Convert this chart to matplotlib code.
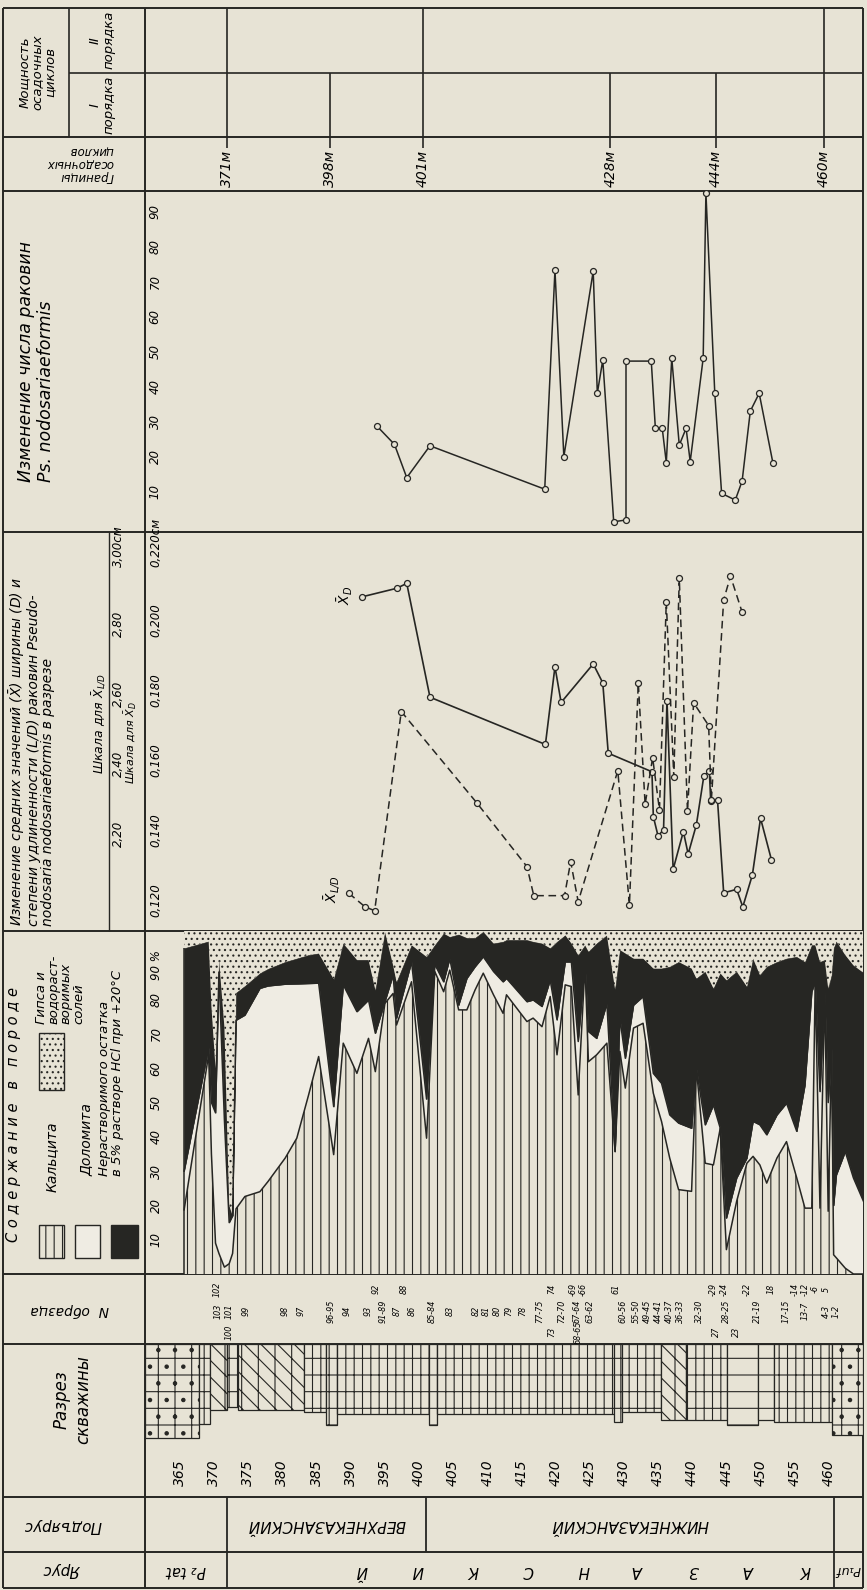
import matplotlib.pyplot as plt
import matplotlib.transforms as mtransforms
from matplotlib.patches import Rectangle
import numpy as np

W, H = 867, 1590
PAPER = '#e7e3d5'
LIGHT = '#efece3'
INK = '#262623'

plt.rcParams['font.family'] = ['DejaVu Sans']
plt.rcParams['font.style'] = 'italic'
plt.rcParams['hatch.linewidth'] = 0.8
plt.rcParams['hatch.color'] = INK

# depth runs left to right: 365 m at x=180 px, 6.83 px per metre
X365, PXM = 180, 6.83
LEFT, RIGHT = 145, 863
DMIN = 365 + (LEFT - X365) / PXM
DMAX = 365 + (RIGHT - X365) / PXM

depth_ticks = list(range(365, 461, 5))

# stratigraphy
substage_edges = [371.9, 401.0, 460.8]
substage_names = ['ВЕРХНЕКАЗАНСКИЙ', 'НИЖНЕКАЗАНСКИЙ']
stage_edges = [371.9, 460.8]
stage_name = 'КАЗАНСКИЙ'

# sedimentary cycles
cycle_depths = [371.9, 387.0, 400.6, 428.0, 443.5, 459.3]
cycle_labels = ['371м', '398м', '401м', '428м', '444м', '460м']
cycle_II = [371.9, 400.6, 459.3]

# number of Ps. nodosariaeformis shells
count_depth = [393.8, 396.4, 398.2, 401.6, 418.4, 419.9, 421.2, 425.5, 426.1, 426.9,
               428.5, 430.3, 430.3, 434.0, 434.6, 435.6, 436.2, 437.0, 438.1, 439.1,
               439.7, 441.6, 442.0, 443.3, 444.3, 446.3, 447.3, 448.5, 449.8, 451.8]
count_vals = [28.9, 23.6, 14.1, 23.2, 10.8, 73.4, 20.1, 73.1, 38.2, 47.7,
              1.5, 2.0, 47.4, 47.4, 28.2, 28.3, 18.4, 48.2, 23.4, 28.2,
              18.7, 48.2, 95.5, 38.2, 9.6, 7.7, 13.1, 33.1, 38.2, 18.4]

# mean width X_D (cm)
xd_depth = [391.7, 396.7, 398.2, 401.6, 418.5, 419.9, 420.8, 425.5, 426.9, 427.7,
            434.1, 434.3, 435.0, 435.8, 436.3, 437.2, 438.7, 439.4, 440.6, 441.7,
            442.5, 442.7, 443.7, 444.6, 446.5, 447.4, 448.8, 450.0, 451.6]
xd_vals = [0.2115, 0.2139, 0.2153, 0.1828, 0.1693, 0.1915, 0.1813, 0.1923, 0.1869, 0.1668,
           0.1615, 0.1487, 0.1431, 0.1450, 0.1818, 0.1336, 0.1444, 0.1380, 0.1463, 0.1603,
           0.1618, 0.1532, 0.1534, 0.1269, 0.1279, 0.1229, 0.1320, 0.1482, 0.1363]

# mean elongation X_L/D
ld_depth = [389.7, 392.1, 393.5, 397.4, 408.5, 415.8, 416.8, 421.3, 422.2, 423.3,
            429.1, 430.8, 432.1, 433.1, 434.2, 435.2, 436.2, 437.3, 438.1, 439.3,
            440.2, 442.4, 442.8, 444.6, 445.6, 447.3]
ld_vals = [2.068, 2.029, 2.018, 2.587, 2.325, 2.144, 2.061, 2.061, 2.158, 2.044,
           2.418, 2.034, 2.669, 2.322, 2.455, 2.306, 2.901, 2.401, 2.968, 2.302,
           2.612, 2.547, 2.334, 2.906, 2.974, 2.871]

# rock composition, cumulative % (calcite, + dolomite, + insoluble residue; rest gypsum)
comp_depth = [365.6, 369.2, 369.6, 370.2, 370.7, 371.5, 372.2, 372.7, 373.2, 374.5,
              376.7, 377.9, 380.4, 382.1, 383.8, 385.3, 387.5, 388.9, 390.9, 392.6,
              393.6, 395.0, 396.2, 396.7, 398.9, 401.1, 402.3, 403.6, 404.5, 405.8,
              407.0, 408.2, 409.4, 410.9, 412.3, 412.8, 415.8, 416.7, 418.0, 419.2,
              420.2, 421.4, 422.3, 423.3, 424.3, 424.8, 426.0, 427.5, 428.7, 429.4,
              430.2, 431.4, 432.8, 434.3, 435.5, 436.7, 438.0, 439.9, 440.6, 441.9,
              443.1, 444.1, 445.0, 446.5, 448.0, 448.9, 449.9, 450.9, 452.4, 453.8,
              455.3, 456.5, 457.5, 458.0, 458.7, 459.4, 459.9, 460.4, 460.7, 461.1,
              462.4, 463.6, 465.5]
calcite_top = [18.7, 64, 35, 9, 6, 2, 3, 6, 19, 22.6,
               24, 27, 33.8, 39.6, 52, 63.4, 34.8, 67.3, 58.5, 68.7,
               59, 78.9, 81.8, 72.6, 85.2, 39.6, 88.2, 82.3, 88.6, 77,
               77, 82.8, 87.7, 81.4, 76, 81.4, 73.6, 74.6, 72.1, 80.9,
               63.9, 84.3, 83.8, 52.2, 90.1, 61.9, 63.9, 67.3, 35.7, 64.9,
               54.2, 71.7, 73.1, 52.7, 44.5, 33.8, 24.6, 24.1, 60, 32.3,
               31.8, 42.5, 7.1, 21.2, 32.3, 34.3, 31.8, 26.5, 33.8, 38.6,
               28, 19.2, 19.2, 85.2, 19.2, 82.3, 18.3, 65.8, 5.6, 4.7,
               1.7, 0, 0]
dolomite_top = [30, 66, 50, 47, 88, 45, 15, 17, 74, 75.5,
                83.3, 84, 84.5, 84.6, 84.7, 84.8, 48.8, 84.3, 76.5, 79.9,
                70.2, 79.4, 87.2, 74.6, 91, 51, 90.3, 85.2, 92, 78.4,
                86.2, 89.6, 92.5, 88.2, 85.2, 86.2, 79.4, 79.9, 78, 85.7,
                74.1, 91, 91, 67.8, 90.6, 70.7, 68.7, 78.9, 35.7, 74.6,
                62.9, 78.4, 80.9, 58.5, 55.6, 46.4, 44, 42.5, 60, 43.5,
                49.3, 42.5, 16.3, 28, 33.8, 44.5, 43.5, 40.6, 46.4, 49.8,
                41.6, 55.1, 82.3, 85.2, 53.2, 82.3, 50, 65.8, 20, 28.9,
                35.7, 28, 19.2]
insoluble_top = [95, 97, 78, 60, 92, 72, 20, 17, 82, 84,
                 87.7, 89, 91, 92, 93, 93.5, 86, 96.4, 91.6, 91.6,
                 82.8, 99.8, 90, 85.2, 95.9, 92.5, 95.9, 99.3, 98.3, 99,
                 98, 98, 99.8, 96.4, 96.9, 97.4, 97.4, 96.9, 96.4, 95,
                 96.9, 98.8, 96.4, 93, 95.9, 94, 96.4, 98.8, 83, 94.5,
                 93.5, 92, 92, 89.1, 89.1, 89.6, 91, 89.1, 86.2, 88.2,
                 83.3, 87.7, 85.7, 88.2, 83.8, 92, 87.2, 89.6, 91, 92,
                 92.5, 91, 95.9, 95.9, 91, 91.6, 83.3, 87.2, 95, 97,
                 93, 90, 87.2]

# well section: bed top, bed bottom, column width, lithology
bed_from = [DMIN, 367.8, 369.4, 371.9, 373.5, 383.2, 386.4, 388.0, 401.4, 402.6,
            428.5, 429.7, 435.4, 439.1, 445.1, 449.6, 452.0, 460.5]
bed_to = [367.8, 369.4, 371.9, 373.5, 383.2, 386.4, 388.0, 401.4, 402.6, 428.5,
          429.7, 435.4, 439.1, 445.1, 449.6, 452.0, 460.5, DMAX]
bed_width = [94, 80, 66, 63, 66, 68, 81, 70, 81, 70,
             78, 68, 76, 76, 81, 76, 78, 91]
bed_rock = ['gyps', 'lime', 'dolo', 'lime', 'dolo', 'lime', 'marl', 'lime', 'marl', 'lime',
            'marl', 'lime', 'dolo', 'marl', 'clay', 'clay', 'marl', 'gyps']

# sample numbers (three staggered rows as printed)
samples_top = ['102', '92', '88', '74', '-69', '-66', '61', '-29', '-24', '-22',
               '18', '-14', '-12', '-6', '5']
samples_top_depth = [370.4, 393.7, 397.8, 419.5, 422.6, 424.0, 428.8, 443.1, 444.7, 448.0,
                     451.6, 455.0, 456.6, 458.0, 459.6]
samples_mid = ['103', '101', '99', '98', '97', '96-95', '94', '93', '91-89', '87',
               '86', '85-84', '83', '82', '81', '80', '79', '78', '77-75', '72-70',
               '67-64', '63-62', '60-56', '55-50', '49-45', '44-41', '40-37', '36-33', '32-30',
               '28-25', '21-19', '17-15', '13-7', '4-3', '1-2']
samples_mid_depth = [370.6, 372.2, 374.7, 380.4, 382.8, 387.1, 389.5, 392.5, 394.7, 396.8,
                     399.0, 402.0, 404.6, 408.3, 409.9, 411.5, 413.1, 415.2, 417.6, 420.9,
                     423.1, 425.0, 429.8, 431.8, 433.4, 435.0, 436.6, 438.3, 441.0,
                     445.0, 449.6, 453.8, 456.5, 459.6, 461.1]
samples_low = ['100', '73', '68-65', '27', '23']
samples_low_depth = [372.2, 419.5, 423.2, 443.5, 446.5]

count_ticks = [10, 20, 30, 40, 50, 60, 70, 80, 90]
xd_ticks = [0.120, 0.140, 0.160, 0.180, 0.200, 0.220]
xd_tick_labels = ['0,120', '0,140', '0,160', '0,180', '0,200', '0,220см']
ld_ticks = [2.20, 2.40, 2.60, 2.80, 3.00]
ld_tick_labels = ['2,20', '2,40', '2,60', '2,80', '3,00см']
comp_ticks = [10, 20, 30, 40, 50, 60, 70, 80, 90]
comp_tick_labels = ['10', '20', '30', '40', '50', '60', '70', '80', '90 %']

HATCH = {'gyps': '+.', 'lime': '|+', 'dolo': '\\\\|', 'marl': '||-', 'clay': '-'}

fig = plt.figure(figsize=(W / 100, H / 100), dpi=100, facecolor=PAPER)
base = fig.add_axes([0, 0, 1, 1])
base.set_xlim(0, W)
base.set_ylim(H, 0)
base.set_axis_off()


def strip(y0, y1):
    ax = fig.add_axes([LEFT / W, 1 - y1 / H, (RIGHT - LEFT) / W, (y1 - y0) / H])
    ax.set_xlim(DMIN, DMAX)
    ax.set_axis_off()
    return ax


# table frame
base.hlines([8, 137, 191, 532, 931, 1274, 1344, 1497, 1552, 1588], 3, RIGHT, color=INK, lw=1.4)
base.hlines(73, 69, RIGHT, color=INK, lw=1.2)
base.vlines([3, LEFT, RIGHT], 8, 1588, color=INK, lw=1.4)
base.vlines(69, 8, 137, color=INK, lw=1.2)
base.vlines(109, 532, 931, color=INK, lw=1.0)

# row headers
base.text(37, 72, 'Мощность\nосадочных\nциклов', rotation=90, ha='center', va='center',
          fontsize=9.5, linespacing=1.0)
base.text(102, 40, 'II\nпорядка', rotation=90, ha='center', va='center', fontsize=9.5, linespacing=1.0)
base.text(102, 105, 'I\nпорядка', rotation=90, ha='center', va='center', fontsize=9.5, linespacing=1.0)
base.text(80, 164, 'Границы\nосадочных\nциклов', rotation=180, ha='center', va='center',
          fontsize=8.5, linespacing=0.95, multialignment='left')
base.text(36, 482, 'Изменение числа раковин\nPs. nodosariaeformis', rotation=90, ha='center',
          va='bottom', multialignment='left', fontsize=12.5, linespacing=1.2)
base.text(31, 926, 'Изменение средних значений ' + r'$(\bar{X})$' + ' ширины (D) и\n'
          'степени удлиненности (L/D) раковин Pseudo-\n'
          'nodosaria nodosariaeformis в разрезе',
          rotation=90, ha='center', va='bottom', multialignment='left', fontsize=10, linespacing=1.0)
base.text(99, 723, r'Шкала для $\bar{X}_{L/D}$', rotation=90, ha='center', va='center', fontsize=9)
base.text(130, 742, r'Шкала для $\bar{X}_D$', rotation=90, ha='center', va='center', fontsize=8)
base.text(14, 1115, 'С о д е р ж а н и е   в   п о р о д е', rotation=90, ha='center',
          va='center', fontsize=10.5)
base.text(52, 1192, 'Кальцита', rotation=90, ha='center', va='bottom', fontsize=10)
base.text(87, 1176, 'Доломита', rotation=90, ha='center', va='bottom', fontsize=10)
base.text(111, 1176, 'Нерастворимого остатка\nв 5% растворе HCl при +20°C', rotation=90,
          ha='center', va='bottom', multialignment='left', fontsize=9.5, linespacing=1.0)
base.text(60, 1024, 'Гипса и\nводораст-\nворимых\nсолей', rotation=90, ha='center',
          va='bottom', multialignment='left', fontsize=9.5, linespacing=0.95)
base.add_patch(Rectangle((39, 1225), 25, 33, facecolor=PAPER, edgecolor=INK, hatch='||', lw=1))
base.add_patch(Rectangle((75, 1225), 25, 33, facecolor=LIGHT, edgecolor=INK, lw=1))
base.add_patch(Rectangle((111, 1225), 27, 33, facecolor=INK, edgecolor=INK, lw=1))
base.add_patch(Rectangle((39, 1033), 25, 57, facecolor=PAPER, edgecolor=INK, hatch='...', lw=1))
base.text(70, 1310, 'N  образца', rotation=180, ha='center', va='center', fontsize=10)
base.text(72, 1400, 'Разрез\nскважины', rotation=90, ha='center', va='center', fontsize=12,
          linespacing=1.25)
base.text(62, 1525, 'Подъярус', rotation=180, ha='center', va='center', fontsize=11)
base.text(62, 1570, 'Ярус', rotation=180, ha='center', va='center', fontsize=11)

# cycle thickness (I and II order) and cycle boundaries
ax_m = strip(8, 137)
ax_m.set_ylim(0, 1)
ax_m.vlines(cycle_II, 0.496, 1, color=INK, lw=1.2)
ax_m.vlines(cycle_depths, 0, 0.496, color=INK, lw=1.2)
ax_b = strip(137, 191)
ax_b.set_ylim(0, 1)
ax_b.vlines(cycle_depths, 0.8, 1, color=INK, lw=1.2)
for d, lab in zip(cycle_depths, cycle_labels):
    ax_b.text(d, 0.42, lab, rotation=90, ha='center', va='center', fontsize=10)

# shell count
ax_n = strip(191, 532)
ax_n.set_ylim(-1.43, 96.0)
ax_n.plot(count_depth, count_vals, color=INK, lw=1.1, marker='o', ms=4.3,
          mfc=PAPER, mec=INK, mew=0.9)
tr = mtransforms.blended_transform_factory(base.transData, ax_n.transData)
for v in count_ticks:
    base.text(155, v, str(v), transform=tr, rotation=90, ha='center', va='center', fontsize=8.5)

# mean width and elongation
ax_x = strip(532, 931)
ax_x.set_ylim(0.116, 0.230)
ax_ld = ax_x.twinx()
ax_ld.set_axis_off()
ax_ld.set_ylim(1.96, 3.10)
ax_x.plot(xd_depth, xd_vals, color=INK, lw=1.2, marker='o', ms=4.3, mfc=PAPER, mec=INK, mew=0.9)
ax_ld.plot(ld_depth, ld_vals, color=INK, lw=1.1, ls=(0, (5, 3)), marker='o', ms=4.3,
           mfc=PAPER, mec=INK, mew=0.9)
ax_x.annotate(r'$\bar{X}_D$', xy=(xd_depth[0], xd_vals[0]), xytext=(-12, 1),
              textcoords='offset points', rotation=90, ha='center', va='center', fontsize=10)
ax_ld.annotate(r'$\bar{X}_{L/D}$', xy=(ld_depth[0], ld_vals[0]), xytext=(-12, 3),
               textcoords='offset points', rotation=90, ha='center', va='center', fontsize=10)
tr = mtransforms.blended_transform_factory(base.transData, ax_x.transData)
for v, lab in zip(xd_ticks, xd_tick_labels):
    base.text(156, v, lab, transform=tr, rotation=90, ha='center', va='bottom', fontsize=8.5)
tr = mtransforms.blended_transform_factory(base.transData, ax_ld.transData)
for v, lab in zip(ld_ticks, ld_tick_labels):
    base.text(118, v, lab, transform=tr, rotation=90, ha='center', va='bottom', fontsize=8.5)

# rock composition
ax_c = strip(931, 1274)
ax_c.set_ylim(0, 100)
ax_c.fill_between(comp_depth, 0, calcite_top, facecolor=PAPER, edgecolor=INK, hatch='||', lw=0)
ax_c.fill_between(comp_depth, calcite_top, dolomite_top, facecolor=LIGHT, lw=0)
ax_c.fill_between(comp_depth, dolomite_top, insoluble_top, facecolor=INK, edgecolor=INK, lw=0.4)
ax_c.fill_between(comp_depth, insoluble_top, 100, facecolor=PAPER, edgecolor=INK, hatch='...', lw=0)
ax_c.plot(comp_depth, calcite_top, color=INK, lw=1.1)
ax_c.plot(comp_depth, dolomite_top, color=INK, lw=1.1)
ax_c.vlines(comp_depth[0], 0, insoluble_top[0], color=INK, lw=1.1)
tr = mtransforms.blended_transform_factory(base.transData, ax_c.transData)
for v, lab in zip(comp_ticks, comp_tick_labels):
    base.text(156, v, lab, transform=tr, rotation=90, ha='center', va='center', fontsize=8.5)

# sample numbers
ax_s = strip(1274, 1344)
ax_s.set_ylim(1344, 1274)
for labs, deps, yy in ((samples_top, samples_top_depth, 1289),
                       (samples_mid, samples_mid_depth, 1311),
                       (samples_low, samples_low_depth, 1332)):
    for lab, d in zip(labs, deps):
        ax_s.text(d, yy, lab, rotation=90, ha='center', va='center', fontsize=5.8)

# well section
ax_w = strip(1344, 1444)
ax_w.set_ylim(100, 0)
for a, b, w, r in zip(bed_from, bed_to, bed_width, bed_rock):
    ax_w.bar(a, w, width=b - a, bottom=0, align='edge', facecolor=PAPER, edgecolor=INK,
             hatch=HATCH[r], lw=0.9)

# depth scale
ax_d = strip(1444, 1497)
ax_d.set_ylim(0, 1)
for d in depth_ticks:
    ax_d.text(d, 0.45, str(d), rotation=90, ha='center', va='center', fontsize=10)

# substages
ax_p = strip(1497, 1552)
ax_p.set_ylim(0, 1)
ax_p.vlines(substage_edges, 0, 1, color=INK, lw=1.3)
for a, b, name in zip(substage_edges[:-1], substage_edges[1:], substage_names):
    ax_p.text((a + b) / 2, 0.5, name, rotation=180, ha='center', va='center', fontsize=11)

# stages
ax_y = strip(1552, 1588)
ax_y.set_ylim(0, 1)
ax_y.vlines(stage_edges, 0, 1, color=INK, lw=1.3)
ax_y.text((DMIN + stage_edges[0]) / 2, 0.5, 'P₂ tat', rotation=180, ha='center', va='center',
          fontsize=10.5)
ax_y.text((stage_edges[1] + DMAX) / 2, 0.5, 'P₁uf', rotation=180, ha='center', va='center',
          fontsize=9)
letter_pos = np.linspace(stage_edges[1] - 4.3, stage_edges[0] + 19.8, len(stage_name))
for ch, d in zip(stage_name, letter_pos):
    ax_y.text(d, 0.5, ch, rotation=180, ha='center', va='center', fontsize=11)

fig.savefig('out.png', dpi=100, facecolor=PAPER)
